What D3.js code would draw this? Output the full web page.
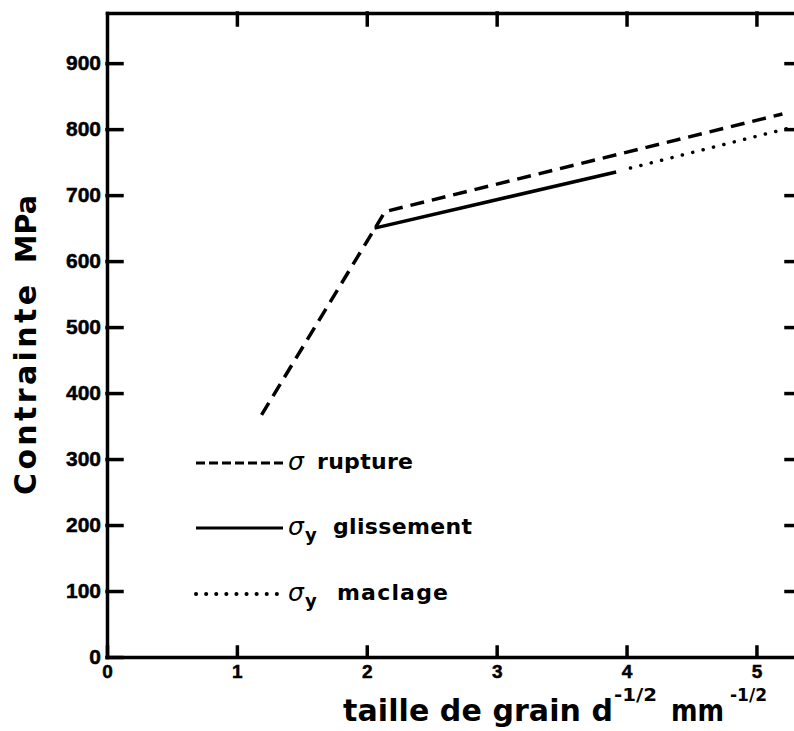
<html lang="fr">
<head>
<meta charset="utf-8">
<title>Contrainte - taille de grain</title>
<style>
    body {
        margin: 0;
        background-color: white;
        font-family: "DejaVu Sans", Arial, Helvetica, sans-serif;
    }
    svg {
        background-color: white;
        display: block;
    }
    .axis path,
    .axis line {
        fill: none;
        stroke: black;
        stroke-width: 3.5;
        stroke-linecap: square;
    }
    .axis text {
        font-family: "Liberation Sans", Arial, sans-serif;
        font-weight: bold;
        fill: black;
        stroke: black;
        stroke-width: 0.5;
    }
    .y.axis text { font-size: 21px; }
    .x.axis text { font-size: 19px; }
    .title {
        font-family: "DejaVu Sans", sans-serif;
        font-weight: bold;
        fill: black;
    }
    .sigma {
        font-family: "DejaVu Sans", sans-serif;
        font-style: italic;
        fill: black;
    }
    .curve {
        fill: none;
        stroke: black;
        stroke-width: 3.5;
    }
</style>
</head>
<body>

<script src="https://cdnjs.cloudflare.com/ajax/libs/d3/7.8.5/d3.min.js"></script>
<script>
// data (x: d^-1/2 in mm^-1/2, y: MPa)
var ruptureX = [1.19, 2.07, 2.14, 5.2];
var ruptureY = [367, 652, 675, 823];

var glissementX = [2.06, 3.92];
var glissementY = [650, 735];

var maclageX = [4.03, 5.3];
var maclageY = [741, 804];

var yTicks = [0, 100, 200, 300, 400, 500, 600, 700, 800, 900];
var xTicks = [0, 1, 2, 3, 4, 5];

var legendLabels = ["rupture", "glissement", "maclage"];

var fullwidth = 794;
var fullheight = 731;
var margin = { top: 13, right: -4, bottom: 74, left: 107 };
var width = fullwidth - margin.left - margin.right;
var height = fullheight - margin.top - margin.bottom;

var svg = d3.select("body")
            .append("svg")
            .attr("width", fullwidth)
            .attr("height", fullheight);

var g = svg.append("g")
           .attr("transform", "translate(" + margin.left + "," + margin.top + ")");

var xScale = d3.scaleLinear().domain([0, 5.32]).range([0, width]);
var yScale = d3.scaleLinear().domain([0, 976]).range([height, 0]);

function zip(xs, ys) {
    return xs.map(function(x, i) { return { x: x, y: ys[i] }; });
}

var line = d3.line()
             .x(function(d) { return xScale(d.x); })
             .y(function(d) { return yScale(d.y); });

g.append("clipPath")
 .attr("id", "plot")
 .append("rect")
 .attr("width", width)
 .attr("height", height);

// curves
var curves = g.append("g").attr("clip-path", "url(#plot)");

curves.append("path")
      .datum(zip(ruptureX, ruptureY))
      .attr("class", "curve")
      .attr("d", line)
      .attr("stroke-dasharray", "14 8");

curves.append("path")
      .datum(zip(glissementX, glissementY))
      .attr("class", "curve")
      .attr("d", line);

curves.append("path")
      .datum(zip(maclageX, maclageY))
      .attr("class", "curve")
      .attr("d", line)
      .attr("stroke-width", 4.5)
      .attr("stroke-linecap", "round")
      .attr("stroke-dasharray", "0.1 10.6");

// axes (ticks point inward like the original)
g.append("g")
 .attr("class", "y axis")
 .call(d3.axisLeft(yScale).tickValues(yTicks).tickSizeInner(-15).tickSizeOuter(0).tickPadding(6));

g.append("g")
 .attr("class", "x axis")
 .attr("transform", "translate(0," + height + ")")
 .call(d3.axisBottom(xScale).tickValues(xTicks).tickFormat(d3.format("d"))
         .tickSizeInner(-10).tickSizeOuter(0).tickPadding(8));

g.append("g")
 .attr("class", "top axis")
 .call(d3.axisTop(xScale).tickValues(xTicks.slice(1)).tickSizeInner(-12).tickSizeOuter(0).tickFormat(""));

g.append("g")
 .attr("class", "right axis")
 .attr("transform", "translate(" + width + ",0)")
 .call(d3.axisRight(yScale).tickValues(yTicks.slice(1)).tickSizeInner(-12).tickSizeOuter(0).tickFormat(""));

// y title
svg.append("text")
   .attr("class", "title")
   .attr("transform", "translate(36,495) rotate(-90)")
   .attr("font-size", 30)
   .attr("textLength", 210)
   .attr("lengthAdjust", "spacing")
   .text("Contrainte");

svg.append("text")
   .attr("class", "title")
   .attr("transform", "translate(36,263) rotate(-90)")
   .attr("font-size", 29)
   .attr("textLength", 68)
   .attr("lengthAdjust", "spacingAndGlyphs")
   .text("MPa");

// x title
var xt = svg.append("g");
xt.append("text")
  .attr("class", "title")
  .attr("x", 343).attr("y", 721)
  .attr("font-size", 30)
  .attr("textLength", 270)
  .attr("lengthAdjust", "spacing")
  .text("taille de grain d");
xt.append("text")
  .attr("class", "title")
  .attr("x", 614).attr("y", 701)
  .attr("font-size", 17)
  .attr("textLength", 43)
  .attr("lengthAdjust", "spacingAndGlyphs")
  .text("-1/2");
xt.append("text")
  .attr("class", "title")
  .attr("x", 671).attr("y", 721)
  .attr("font-size", 30)
  .attr("textLength", 53)
  .attr("lengthAdjust", "spacingAndGlyphs")
  .text("mm");
xt.append("text")
  .attr("class", "title")
  .attr("x", 730).attr("y", 701)
  .attr("font-size", 17)
  .attr("textLength", 37)
  .attr("lengthAdjust", "spacingAndGlyphs")
  .text("-1/2");

// legend
var legendY = [463, 528, 594];
var legendDash = ["9 4", null, "0.1 10"];
var legendWidths = [96, 139, 111];
var legendStarts = [317, 333, 337];

var legend = svg.append("g").attr("class", "legend");

legendLabels.forEach(function(label, i) {
    var row = legend.append("g").attr("transform", "translate(0," + legendY[i] + ")");

    row.append("line")
       .attr("x1", 196).attr("x2", i === 2 ? 285 : 283)
       .attr("stroke", "black")
       .attr("stroke-width", i === 2 ? 4 : 3)
       .attr("stroke-linecap", i === 2 ? "round" : "butt")
       .attr("stroke-dasharray", legendDash[i]);

    row.append("text")
       .attr("class", "sigma")
       .attr("x", 288).attr("y", 7)
       .attr("font-size", 25)
       .text("σ");

    if (i > 0) {
        row.append("text")
           .attr("class", "title")
           .attr("x", 305).attr("y", 13)
           .attr("font-size", 18)
           .text("y");
    }

    row.append("text")
       .attr("class", "title")
       .attr("x", legendStarts[i]).attr("y", 6)
       .attr("font-size", 22)
       .attr("textLength", legendWidths[i])
       .attr("lengthAdjust", "spacing")
       .text(label);
});
</script>
</body>
</html>
